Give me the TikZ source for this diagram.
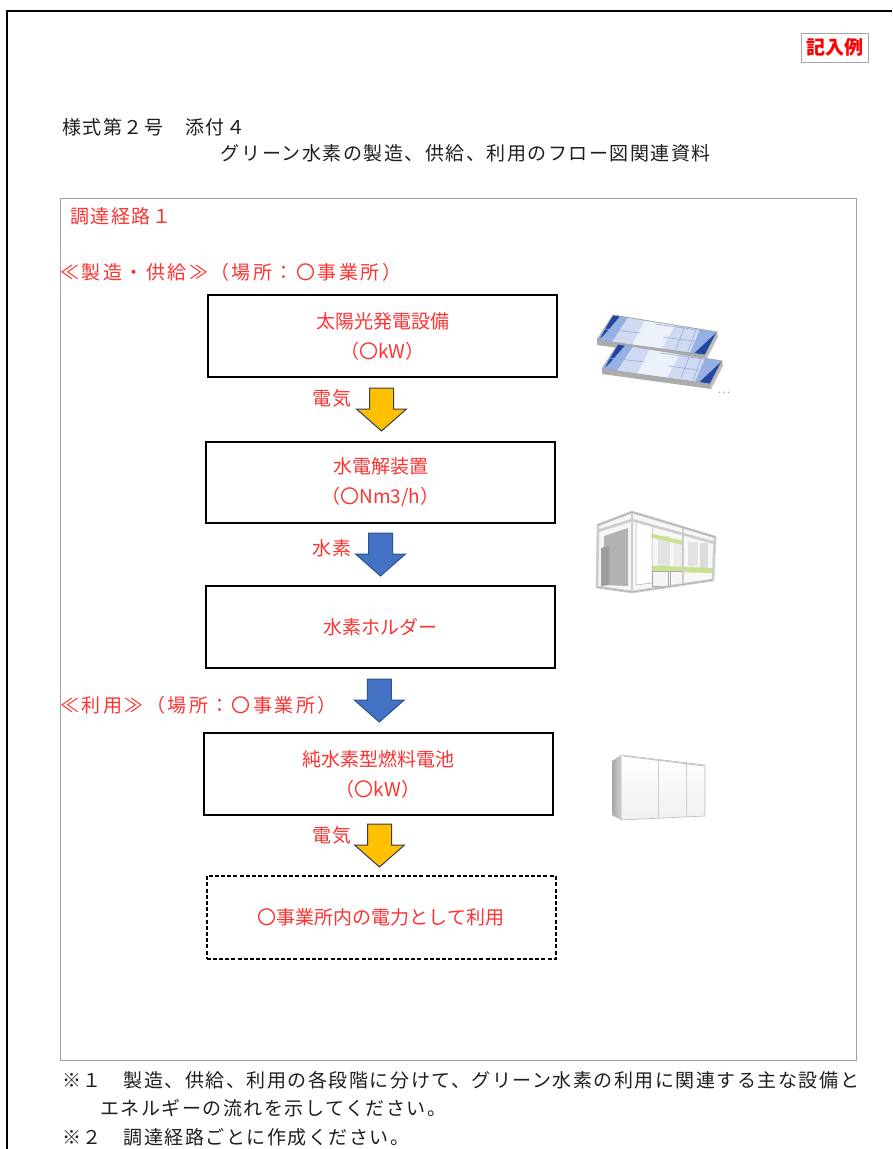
\documentclass[tikz,border=0pt]{standalone}
\usepackage{fontspec}
\setmainfont{Noto Sans CJK JP}
\usetikzlibrary{calc}

\definecolor{note}{RGB}{255,50,50}
\definecolor{ink}{RGB}{30,30,30}
\definecolor{elec}{RGB}{255,192,0}
\definecolor{elecedge}{RGB}{50,60,85}
\definecolor{hydro}{RGB}{68,114,196}
\definecolor{hydroedge}{RGB}{47,82,143}
\definecolor{panelblue}{RGB}{35,70,160}
\definecolor{panellight}{RGB}{150,175,228}
\definecolor{pipegreen}{RGB}{200,225,140}

\tikzset{
  jp/.style={font=\fontsize{19}{30}\selectfont},
  wide/.style={font=\fontsize{19}{30}\selectfont\addfontfeature{LetterSpace=8}},
  wider/.style={font=\fontsize{19}{30}\selectfont\addfontfeature{LetterSpace=13}},
  plain/.style={wide, text=ink, inner sep=0pt},
  redtext/.style={wide, text=note, inner sep=0pt},
  stagebox/.style={draw=black, line width=2pt, minimum width=349pt,
    minimum height=82pt, inner sep=0pt, align=center, jp, text=note},
  framebox/.style={draw=gray!75, line width=1pt},
  frame/.style={draw=gray!40, line width=2.6pt, line cap=round},
  frameedge/.style={draw=gray!70, line width=0.5pt},
}

% block arrow centred between two stacked boxes
\newcommand\flowarrow[4]{%
  \path ($(#1.south)!0.5!(#2.north)$) coordinate (am);
  \filldraw[fill=#3, draw=#4, line width=1pt, line join=miter]
    ($(am)+(-12pt,21.5pt)$) -- ($(am)+(12pt,21.5pt)$) -- ($(am)+(12pt,0.5pt)$)
    -- ($(am)+(25pt,0.5pt)$) -- ($(am)+(0pt,-21.5pt)$) -- ($(am)+(-25pt,0.5pt)$)
    -- ($(am)+(-12pt,0.5pt)$) -- cycle;}

% one solar module, shifted by #1
\newcommand\solarmodule[1]{%
  \begin{scope}[shift={#1}]
    \fill[gray!65] (597,340) -- (705,355) -- (706,360) -- (597,345) -- cycle;
    \fill[gray!50] (705,355) -- (717,332) -- (718,337) -- (706,360) -- cycle;
    \fill[panellight] (613,315) -- (717,332) -- (705,355) -- (597,340) -- cycle;
    % glare band across the glass
    \fill[white, fill opacity=0.55] (628,317.5) -- (700,329.3) -- (690,352.6) -- (612,342) -- cycle;
    \fill[white, fill opacity=0.6] (645,320.2) -- (675,325.1) -- (662,348.8) -- (632,344.7) -- cycle;
    \fill[panelblue] (613,315) -- (620,316.2) -- (604,335) -- (600,338.5) -- cycle;
    \fill[panelblue] (717,332) -- (705,355) -- (694,353.5) -- cycle;
    \draw[white!55!panelblue, line width=0.6pt]
      (604,329) -- (640,333) (615,326) -- (611,338)
      (655,324) -- (705,331) (663,337) -- (700,342)
      (684,328) -- (676,349) (696,330) -- (688,351);
    \draw[gray!70, line width=0.8pt]
      (613,315) -- (717,332) -- (705,355) -- (597,340) -- cycle;
  \end{scope}}

\begin{document}
\begin{tikzpicture}[x=1pt, y=-1pt]
  \useasboundingbox (0,0) rectangle (892,1149);
  \fill[white] (0,0) rectangle (892,1149);

  % page edge
  \draw[black, line width=2.5pt] (6,11) -- (892,11);
  \draw[black, line width=2pt] (7,11) -- (7,1149);

  % heading
  \node[draw=gray!70, line width=0.8pt, minimum width=67pt, minimum height=29pt,
        inner sep=0pt, text=red, font=\fontsize{19}{22}\selectfont\bfseries]
    (sample) at (834.5,47.5) {記入例};
  \node[plain, anchor=west] (form) at (62,127) {様式第２号　添付４};
  \node[plain] (title) at (466,153) {グリーン水素の製造、供給、利用のフロー図関連資料};

  % route frame
  \draw[framebox] (60,198) rectangle (856,1060);
  \node[redtext, anchor=west] (route) at (70,216) {調達経路１};
  \node[redtext, wider, anchor=west] (stage1) at (60,272) {≪製造・供給≫（場所：〇事業所）};
  \node[redtext, wider, anchor=west] (stage2) at (60,705) {≪利用≫（場所：〇事業所）};

  % equipment chain
  \node[stagebox] (pv) at (382.5,336) {太陽光発電設備\\（〇kW）};
  \node[stagebox, minimum height=81pt] (ely) at (380.5,482.5) {水電解装置\\（〇Nm3/h）};
  \node[stagebox] (hold) at (380.5,627) {水素ホルダー};
  \node[stagebox] (fc) at (378,774) {純水素型燃料電池\\（〇kW）};
  \node[stagebox, dash pattern=on 4pt off 2.2pt, minimum height=83pt] (use) at (381,917.5)
    {〇事業所内の電力として利用};

  \flowarrow{pv}{ely}{elec}{elecedge}
  \node[redtext, anchor=west] (l1) at (312,398) {電気};
  \flowarrow{ely}{hold}{hydro}{hydroedge}
  \node[redtext, anchor=west] (l2) at (312,548) {水素};
  \flowarrow{hold}{fc}{hydro}{hydroedge}
  \flowarrow{fc}{use}{elec}{elecedge}
  \node[redtext, anchor=west] (l3) at (312,835) {電気};

  % solar modules
  \solarmodule{(0,0)}
  \solarmodule{(5pt,-29pt)}
  \node[text=gray!70, font=\fontsize{12}{12}\selectfont, inner sep=0pt] (dots) at (724,393) {…};

  % electrolyser container
  \fill[gray!8] (598,525) -- (632,512) -- (632,592) -- (597,587) -- cycle;
  \fill[gray!60] (604,536) -- (628,528) -- (628,586) -- (604,585) -- cycle;
  \fill[gray!78] (601,548) -- (609,546) -- (609,585) -- (601,586) -- cycle;
  \fill[gray!6] (632,512) -- (715,537) -- (713,580) -- (632,592) -- cycle;
  \fill[gray!22] (658,536) rectangle (670,566);
  \fill[gray!16] (674,539) rectangle (682,566);
  \fill[gray!22] (688,542) rectangle (698,566);
  \fill[gray!28] (700,543) rectangle (708,568);
  \fill[pipegreen] (640,565) -- (712,568) -- (712,573) -- (640,571) -- cycle;
  \fill[pipegreen] (640,531) -- (683,541) -- (683,545) -- (640,535) -- cycle;
  \fill[white] (636,521) -- (652,525) -- (652,583) -- (636,585) -- cycle;
  \draw[frameedge] (636,521) -- (652,525) -- (652,583) -- (636,585) -- cycle;
  \fill[gray!8] (652,571) rectangle (668,586);
  \draw[frameedge] (652,571) rectangle (668,586);
  \fill[gray!8] (670,571) rectangle (682,585);
  \draw[frameedge] (670,571) rectangle (682,585);
  \draw[frame] (598,525) -- (632,512) -- (715,537) -- (713,580) -- (632,592) -- (597,587) -- cycle;
  \draw[frame] (632,512) -- (632,592);
  \draw[frame] (683,528) -- (683,584);
  \draw[frame] (598,531) -- (632,520);
  \draw[frame] (632,520) -- (715,543);
  \draw[frameedge] (598,525) -- (632,512) -- (715,537);
  \draw[frameedge] (597,587) -- (632,592) -- (713,580);

  % fuel cell unit
  \shade[left color=gray!70, right color=gray!35] (612,761) -- (621,755) -- (621,820) -- (612,815) -- cycle;
  \shade[top color=white, bottom color=gray!12] (621,755) -- (705,765) -- (705,816) -- (621,820) -- cycle;
  \draw[gray!55, line width=0.6pt] (621,755) -- (705,765) -- (705,816) -- (621,820) -- cycle;
  \draw[gray!40, line width=0.6pt] (658,759) -- (658,818) (686,763) -- (686,817);
  \draw[gray!45, line width=1pt] (624,756) -- (704,766);

  % footnotes
  \node[plain, anchor=west] (n1) at (62,1080) {※１　製造、供給、利用の各段階に分けて、グリーン水素の利用に関連する主な設備と};
  \node[plain, anchor=west] (n1b) at (100,1108) {エネルギーの流れを示してください。};
  \node[plain, anchor=west] (n2) at (62,1137) {※２　調達経路ごとに作成ください。};
\end{tikzpicture}
\end{document}
